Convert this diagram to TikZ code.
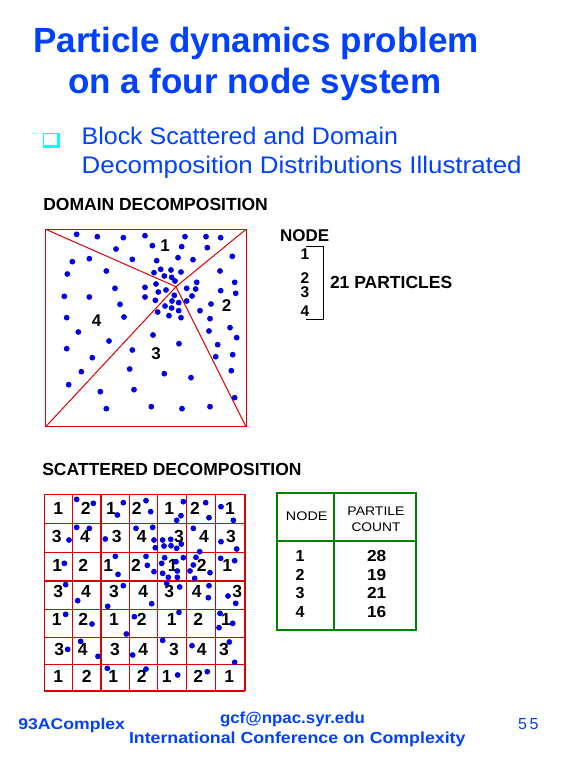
\documentclass[tikz,border=0pt]{standalone}
\usepackage{fontspec}
\usepackage{graphicx}
\setmainfont{Liberation Sans}
\newcommand{\myfs}[1]{\fontsize{#1}{#1}\selectfont}
\newcommand{\sx}[2]{\scalebox{#1}[1]{#2}}
\definecolor{ttlblue}{RGB}{0,64,255}
\definecolor{dotblue}{RGB}{0,0,225}
\definecolor{lred}{RGB}{220,0,0}
\definecolor{lgreen}{RGB}{0,128,0}
\definecolor{bcyan}{RGB}{0,255,255}
\begin{document}
\begin{tikzpicture}[x=1pt,y=-1pt,
  txt/.style={inner sep=0pt,outer sep=0pt},
  redline/.style={draw=lred,line width=1pt},
  gridline/.style={draw=lred,line width=1.3pt},
  grnline/.style={draw=lgreen,line width=1.8pt},
  pdot/.style={fill=dotblue}]
\useasboundingbox[fill=white] (0,0) rectangle (569,759);

% ---------- title ----------
\node[txt,anchor=base west,text=ttlblue,font=\bfseries\myfs{35}] (t1) at (33.3,52.3) {Particle dynamics problem};
\node[txt,anchor=base west,text=ttlblue,font=\bfseries\myfs{35}] (t2) at (68,94) {on a four node system};

% bullet
\fill[bcyan] (42.7,133) rectangle (60,148);
\fill[white] (44.2,134.5) rectangle (57.2,145.2);
\node[txt,anchor=base west,text=ttlblue,font=\myfs{24}] (b1) at (81.7,145) {\sx{1.04}{Block Scattered and Domain}};
\node[txt,anchor=base west,text=ttlblue,font=\myfs{24}] (b2) at (81.7,173.3) {\sx{1.078}{Decomposition Distributions Illustrated}};

% ---------- domain decomposition ----------
\node[txt,anchor=base west,font=\bfseries\myfs{17.5}] (dtitle) at (43.3,210.7) {DOMAIN DECOMPOSITION};
\coordinate (dTL) at (45.7,229.3);
\coordinate (dTR) at (246,229.3);
\coordinate (dBL) at (45.7,426.7);
\coordinate (dBR) at (246,426.7);
\coordinate (dC) at (176,286.7);
\draw[redline] (dTL) rectangle (dBR);
\draw[redline] (dC) -- (dTL);
\draw[redline] (dC) -- (dTR);
\draw[redline] (dC) -- (dBL);
\draw[redline] (dC) -- (dBR);

\foreach \zx/\zy in {140/133,202/140,280/143,345/137,465/140,528/140,572/143,
  367/167,455/170,258/177,532/173,
  127/215,178/206,307/208,380/212,444/203,489/209,607/199,
  112/252,229/243,372/248,392/238,423/240,453/246,570/243,
  403/258,425/262,435/273,500/277,614/277,
  255/295,345/292,378/282,470/295,497/297,572/302,617/310,
  103/319,178/321,345/321,385/306,408/300,433/316,486/318,
  270/343,376/331,426/333,446/338,470/333,543/342,
  405/348,425/354,446/362,510/362,
  110/383,282/381,383/366,417/377,453/383,540/386,
  145/426,369/435,537/423,600/413,620/443,
  237/453,447/461,563/464,
  110/476,307/480,608/494,
  187/503,557/500,
  299/537,154/545,403/551,483/563,604/542,
  116/584,211/605,312/599,614/623,
  229/656,364/650,456/656,540/650}
  \fill[pdot] ({30+\zx/3},{190+\zy/3}) circle[radius=2.9pt];

\node[txt,font=\bfseries\myfs{17}] (r1) at (165,246) {1};
\node[txt,font=\bfseries\myfs{17}] (r2) at (226.7,306) {2};
\node[txt,font=\bfseries\myfs{17}] (r3) at (156,353.3) {3};
\node[txt,font=\bfseries\myfs{17}] (r4) at (96.7,320.8) {4};

% node list with bracket
\node[txt,anchor=base west,font=\bfseries\myfs{17}] (nodehdr) at (280,241.7) {NODE};
\node[txt,anchor=base,font=\bfseries\myfs{15.5}] (n1) at (305,259.3) {1};
\node[txt,anchor=base,font=\bfseries\myfs{15.5}] (n2) at (305,283.3) {2};
\node[txt,anchor=base,font=\bfseries\myfs{15.5}] (n3) at (305,297.6) {3};
\node[txt,anchor=base,font=\bfseries\myfs{15.5}] (n4) at (305,316.7) {4};
\coordinate (brA) at (306,246);
\coordinate (brB) at (323.3,246);
\coordinate (brC) at (323.3,319.3);
\coordinate (brD) at (306,319.3);
\draw[line width=1pt] (brA) -- (brB) -- (brC) -- (brD);
\node[txt,anchor=base west,font=\bfseries\myfs{17.5}] (parts) at (330,288.3) {21 PARTICLES};

% ---------- scattered decomposition ----------
\node[txt,anchor=base west,font=\bfseries\myfs{17.5}] (stitle) at (42.3,475.7) {SCATTERED DECOMPOSITION};
\foreach \gx in {44.3,72.7,101,129.3,157.7,186.7,215.7,245}
  \draw[gridline] (\gx,494.3) -- (\gx,691);
\foreach \gy in {494.3,523.3,552.3,581,609.3,637.3,664.3,691}
  \draw[gridline] (44.3,\gy) -- (245,\gy);

\foreach \r/\zy/\xs in {1/160/{85,167,243,320,418,495,600},
  2/243/{80,165,260,335,447,522,603},
  3/330/{82,160,235,318,428,515,592},
  4/410/{85,168,252,340,418,500,622},
  5/493/{80,160,252,335,425,505,588},
  6/583/{88,158,255,340,432,515,582},
  7/665/{85,170,250,335,410,505,598}}{
  \foreach \zx [count=\c] in \xs {
    \pgfmathtruncatemacro\lab{1+mod(\c-1,2)+2*mod(\r-1,2)}
    \node[txt,font=\bfseries\myfs{17.5}] (g\r-\c) at ({30+\zx/3},{455+\zy/3}) {\lab};
  }
}

\foreach \zx/\zy in {140/133,190/145,280/143,262/180,348/137,362/170,460/140,453/182,440/196,527/143,537/188,573/155,610/196,
  140/217,178/220,117/255,226/252,318/220,368/217,372/255,376/278,398/255,422/253,454/267,402/273,423/272,440/280,490/220,573/260,620/282,509/290,
  103/325,256/304,264/358,348/304,352/331,372/350,404/308,438/320,460/308,395/325,398/355,415/367,442/348,442/367,498/307,490/330,480/348,494/370,540/353,572/310,614/317,
  107/389,143/437,233/454,280/392,365/446,410/385,449/396,537/392,535/428,594/423,617/445,
  107/478,186/507,289/537,313/485,447/472,570/475,567/518,608/505,
  152/559,113/583,204/604,308/600,398/556,486/572,598/561,614/622,
  232/640,348/642,443/660,532/650}
  \fill[pdot] ({30+\zx/3},{455+\zy/3}) circle[radius=2.9pt];

% ---------- table ----------
\coordinate (tTL) at (277.3,493.3);
\coordinate (tBR) at (415.7,630);
\coordinate (tV1) at (334.3,493.3);
\coordinate (tV2) at (334.3,630);
\coordinate (tH1) at (277.3,540.7);
\coordinate (tH2) at (415.7,540.7);
\draw[grnline] (tTL) rectangle (tBR);
\draw[grnline] (tV1) -- (tV2);
\draw[grnline] (tH1) -- (tH2);
\node[txt,font=\myfs{12.5}] (thn) at (306.7,515.7) {\sx{1.15}{NODE}};
\node[txt,anchor=base,font=\myfs{12.5}] (thp) at (376,515.7) {\sx{1.12}{PARTILE}};
\node[txt,anchor=base,font=\myfs{12.5}] (thc) at (376,531) {\sx{1.1}{COUNT}};
\foreach \nn/\cnt/\by in {1/28/561,2/19/580,3/21/598.3,4/16/617.7}{
  \node[txt,anchor=base,font=\bfseries\myfs{16}] (tn\nn) at (300,\by) {\nn};
  \node[txt,anchor=base,font=\bfseries\myfs{16}] (tc\nn) at (376.7,\by) {\sx{1.08}{\cnt}};
}

% ---------- footer ----------
\node[txt,anchor=base west,text=ttlblue,font=\bfseries\myfs{15.5}] (f1) at (18.3,729.3) {\sx{1.137}{93AComplex}};
\node[txt,anchor=base west,text=ttlblue,font=\bfseries\myfs{16}] (f2) at (220,723.3) {\sx{1.055}{gcf@npac.syr.edu}};
\node[txt,anchor=base west,text=ttlblue,font=\bfseries\myfs{16}] (f3) at (129,743.3) {\sx{1.11}{International Conference on Complexity}};
\node[txt,anchor=base west,text=ttlblue,font=\myfs{16}] (f4) at (518,729.3) {5\,5};
\end{tikzpicture}
\end{document}
